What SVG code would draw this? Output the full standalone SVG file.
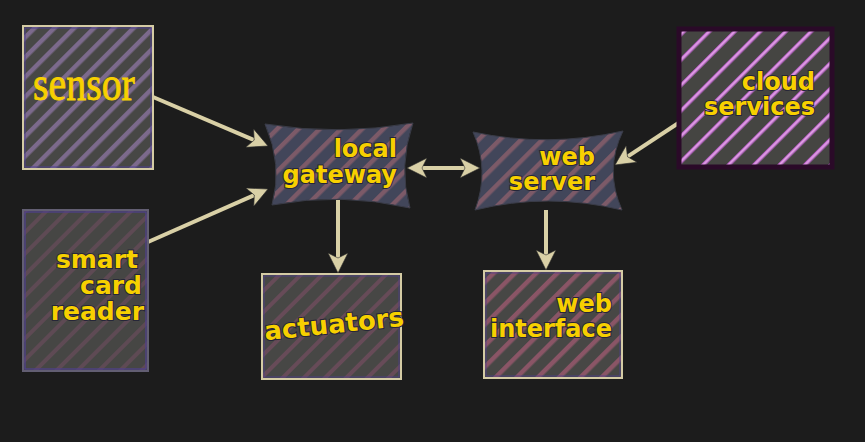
<svg xmlns="http://www.w3.org/2000/svg" width="865" height="442" viewBox="0 0 865 442">
<style>
.lbl{font-family:"DejaVu Sans","Liberation Sans",sans-serif;font-weight:bold;font-size:24px;fill:#f7d000;stroke:#262638;stroke-width:2;paint-order:stroke;}
.edge{stroke:#d9d0a6;stroke-width:4;fill:none;}
</style>
<defs>
<pattern id="pSensor" width="14" height="14" patternUnits="userSpaceOnUse" patternTransform="rotate(45)"><rect width="14" height="14" fill="#474745"/><rect width="4.5" height="14" fill="#7c6a8c"/></pattern>
<pattern id="pCard" width="15" height="15" patternUnits="userSpaceOnUse" patternTransform="rotate(45)"><rect width="15" height="15" fill="#464644"/><rect width="4" height="15" fill="#5e4a54"/></pattern>
<pattern id="pGate" width="15" height="15" patternUnits="userSpaceOnUse" patternTransform="rotate(45)"><rect width="15" height="15" fill="#42465a"/><rect width="4.5" height="15" fill="#7c5a68"/></pattern>
<pattern id="pAct" width="15" height="15" patternUnits="userSpaceOnUse" patternTransform="rotate(45)"><rect width="15" height="15" fill="#474745"/><rect width="4" height="15" fill="#674b58"/></pattern>
<pattern id="pWeb" width="15" height="15" patternUnits="userSpaceOnUse" patternTransform="rotate(45)"><rect width="15" height="15" fill="#474745"/><rect width="4.5" height="15" fill="#8a5566"/></pattern>
<pattern id="pCloud" width="18" height="18" patternUnits="userSpaceOnUse" patternTransform="rotate(45)"><rect width="18" height="18" fill="#454542"/><rect width="3.6" height="18" fill="#c868d8"/><rect x="1.3" width="1" height="18" fill="#e8c0e4"/></pattern>
<marker id="ah" markerUnits="userSpaceOnUse" markerWidth="22" markerHeight="22" refX="5" refY="10" orient="auto-start-reverse" viewBox="0 0 22 22"><path d="M0,0 L20,10 L0,20 L5,10 Z" fill="#d9d0a6" stroke="#2a2a2a" stroke-width="0.6"/></marker>
</defs>
<rect width="865" height="442" fill="#1c1c1c"/>
<g id="connectors">
<line class="edge" x1="153" y1="97" x2="254.2" y2="140.1" marker-end="url(#ah)"/>
<line class="edge" x1="148" y1="242" x2="254.3" y2="195.1" marker-end="url(#ah)"/>
<line class="edge" x1="422" y1="168" x2="465" y2="168" marker-start="url(#ah)" marker-end="url(#ah)"/>
<line class="edge" x1="680" y1="122" x2="627.5" y2="156.7" marker-end="url(#ah)"/>
<line class="edge" x1="338" y1="200" x2="338" y2="258" marker-end="url(#ah)"/>
<line class="edge" x1="546" y1="210" x2="546" y2="255" marker-end="url(#ah)"/>
</g>
<g id="sensor">
<rect x="23" y="26" width="130" height="143" fill="url(#pSensor)" stroke="#d4cba4" stroke-width="2"/>
<rect x="25" y="28" width="126" height="139" fill="none" stroke="#4f4090" stroke-width="1"/>
<text transform="translate(84,100) scale(0.83,1)" text-anchor="middle" font-family="'Liberation Serif',serif" font-size="48" fill="#f7d000" stroke="#f7d000" stroke-width="0.9">sensor</text>
</g>
<g id="smart_card_reader">
<rect x="23" y="210" width="125" height="161" fill="url(#pCard)" stroke="#625e72" stroke-width="2"/>
<rect x="25" y="212" width="121" height="157" fill="none" stroke="#4f4090" stroke-width="1.2"/>
<text class="lbl" text-anchor="end" style="font-size:25px"><tspan x="138" y="268">smart</tspan><tspan x="142" y="294">card</tspan><tspan x="144" y="320">reader</tspan></text>
</g>
<g id="local_gateway">
<path d="M265,124 Q339,136 413,123 Q398,166 410,208 Q341,192 272,205 Q283,165 265,124 Z" fill="url(#pGate)" stroke="#3a3c48" stroke-width="1"/>
<text class="lbl" text-anchor="end"><tspan x="397" y="157">local</tspan><tspan x="397" y="183">gateway</tspan></text>
</g>
<g id="web_server">
<path d="M473,132 Q548,148 623,131 Q604,170 622,210 Q548,192 475,210 Q490,170 473,132 Z" fill="url(#pGate)" stroke="#3a3c48" stroke-width="1"/>
<text class="lbl" text-anchor="end"><tspan x="595" y="165">web</tspan><tspan x="595" y="190">server</tspan></text>
</g>
<g id="cloud_services">
<rect x="679" y="29" width="153" height="138" fill="url(#pCloud)" stroke="#2a0a28" stroke-width="5"/>
<text class="lbl" text-anchor="end"><tspan x="815" y="90">cloud</tspan><tspan x="815" y="115">services</tspan></text>
</g>
<g id="actuators">
<rect x="262" y="274" width="139" height="105" fill="url(#pAct)" stroke="#d4cba4" stroke-width="2"/>
<rect x="264" y="276" width="135" height="101" fill="none" stroke="#4f4090" stroke-width="0.8"/>
<text class="lbl" text-anchor="middle" style="font-size:26px" transform="translate(335,333) rotate(-6)">actuators</text>
</g>
<g id="web_interface">
<rect x="484" y="271" width="138" height="107" fill="url(#pWeb)" stroke="#d4cba4" stroke-width="2"/>
<rect x="486" y="273" width="134" height="103" fill="none" stroke="#4f4090" stroke-width="0.8"/>
<text class="lbl" text-anchor="end"><tspan x="612" y="312">web</tspan><tspan x="612" y="337">interface</tspan></text>
</g>
</svg>
